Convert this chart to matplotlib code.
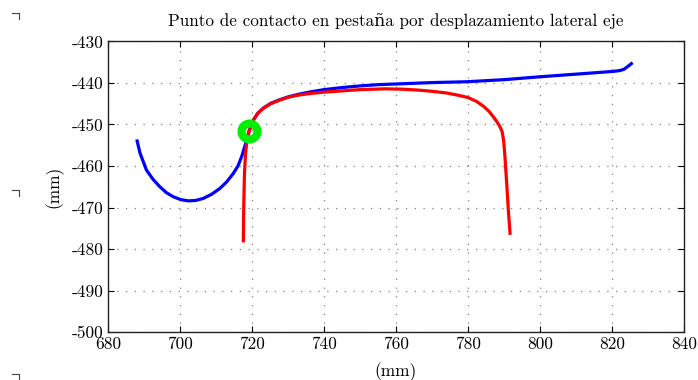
import matplotlib
matplotlib.use("Agg")
import matplotlib.pyplot as plt
from matplotlib.lines import Line2D

plt.rcParams['font.family'] = ['cmr10', 'DejaVu Serif']
plt.rcParams['axes.unicode_minus'] = False
plt.rcParams['mathtext.fontset'] = 'cm'

# curva azul
blue_x = [688.0, 688.9, 690.7, 692.5, 694.4, 696.2, 698.1, 700.2, 702.3, 704.4, 706.5,
          708.8, 711.1, 713.0, 714.8, 716.1, 717.1, 718.1, 719.2, 720.4, 721.6,
          723.1, 725.2, 727.8, 730.2, 733.0, 736.5, 740.0, 745.0, 750.0, 755.0,
          761.1, 770.0, 779.6, 790.0, 800.0, 811.1, 820.4, 822.2, 823.3, 824.1,
          825.0, 825.7]
blue_y = [-453.6, -456.9, -461.0, -463.2, -465.0, -466.4, -467.4, -468.1, -468.4,
          -468.3, -467.8, -466.8, -465.4, -463.8, -461.8, -460.0, -457.8, -455.0,
          -451.6, -448.9, -447.3, -446.1, -444.9, -444.0, -443.3, -442.7, -442.1,
          -441.6, -441.1, -440.7, -440.4, -440.2, -439.9, -439.7, -439.2, -438.5,
          -437.8, -437.2, -437.0, -436.7, -436.2, -435.6, -435.1]

# curva roja
red_x = [717.6, 717.7, 717.9, 718.2, 718.6, 719.2, 720.4, 721.6, 723.1, 725.2, 727.8,
         730.2, 733.0, 736.5, 740.0, 745.0, 750.0, 757.0, 762.0, 766.0, 770.0, 774.0,
         777.0, 780.0, 782.3, 784.3, 785.8, 787.0, 788.0, 788.9, 789.5, 789.9,
         790.2, 790.5, 790.8, 791.2, 791.7]
red_y = [-478.4, -470.0, -462.0, -457.0, -454.0, -451.6, -448.9, -447.3, -446.1,
         -445.0, -444.1, -443.4, -442.9, -442.5, -442.2, -441.9, -441.6, -441.4,
         -441.5, -441.7, -442.0, -442.4, -442.9, -443.5, -444.4, -445.6, -446.8,
         -448.1, -449.3, -450.6, -451.8, -454.0, -457.0, -461.0, -465.0, -470.6,
         -476.6]

# punto de contacto
contact_x = [719.2]
contact_y = [-451.6]

xticks = [680, 700, 720, 740, 760, 780, 800, 820, 840]
yticks = [-430, -440, -450, -460, -470, -480, -490, -500]

fig = plt.figure(figsize=(6.98, 3.80), dpi=100)
ax = fig.add_axes([0.1547, 0.1263, 0.8253, 0.7645])

ax.plot(blue_x, blue_y, color='#0000ff', lw=2.3, solid_capstyle='butt',
        solid_joinstyle='round', zorder=2)
ax.plot(red_x, red_y, color='#ff0000', lw=2.3, solid_capstyle='butt',
        solid_joinstyle='round', zorder=3)
ax.plot(contact_x, contact_y, 'o', markersize=11.5, markerfacecolor='none',
        markeredgecolor='#00ee00', markeredgewidth=5.8, zorder=4)

ax.set_xlim(680, 840)
ax.set_ylim(-500, -430)
ax.set_xticks(xticks)
ax.set_yticks(yticks)
ax.set_xticklabels([str(v) for v in xticks])
ax.set_yticklabels([str(v) for v in yticks])
ax.tick_params(direction='in', top=True, right=True, length=4, width=0.8,
               labelsize=12.5, pad=3)
ax.grid(True, linestyle=(0, (1, 6)), color='#808080', linewidth=0.9)
for s in ax.spines.values():
    s.set_linewidth(1.0)
    s.set_color('#222222')

ax.set_title('Punto de contacto en pestaña por desplazamiento lateral eje',
             fontsize=12.3, pad=11)
ax.set_xlabel('(mm)', fontsize=12.5, labelpad=8)
ax.set_ylabel('(mm)', fontsize=12.5, labelpad=6)

# marcas de esquina
for yc in [0.965, 0.50, 0.015]:
    fig.add_artist(Line2D([12 / 698, 19 / 698], [yc, yc], transform=fig.transFigure,
                          color='#444444', lw=0.8))
    fig.add_artist(Line2D([19 / 698, 19 / 698], [yc, yc - 6 / 380],
                          transform=fig.transFigure, color='#444444', lw=0.8))

fig.savefig('out.png', dpi=100)
